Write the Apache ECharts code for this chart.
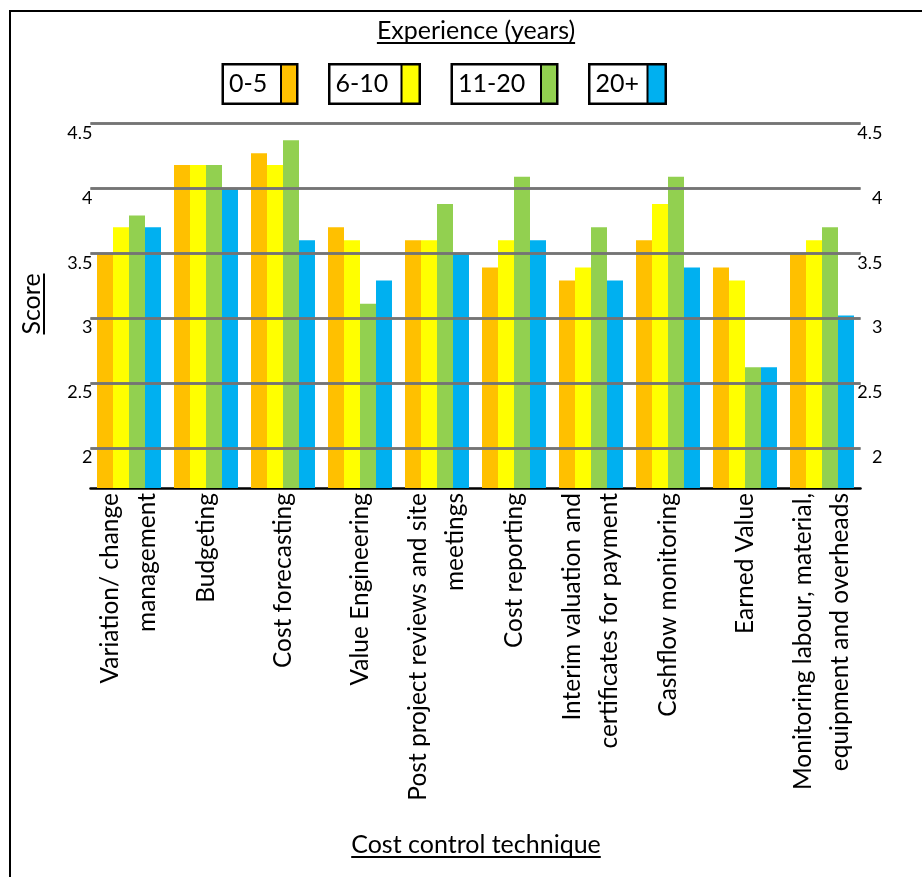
<!DOCTYPE html>
<html>
<head>
<meta charset="utf-8">
<script src="https://cdn.jsdelivr.net/npm/echarts@6/dist/echarts.min.js"></script>
<style>
  html, body { margin: 0; padding: 0; background: #fff; }
  #chart { width: 922px; height: 877px; }
</style>
</head>
<body>
<div id="chart"></div>
<script>
const FONT = 'Lato';

const categories = [
  'Variation/ change\nmanagement',
  'Budgeting',
  'Cost forecasting',
  'Value Engineering',
  'Post project reviews and site\nmeetings',
  'Cost reporting',
  'Interim valuation and\ncertificates for payment',
  'Cashflow monitoring',
  'Earned Value',
  'Monitoring labour, material,\nequipment and overheads'
];
const groupNames = ['0-5', '6-10', '11-20', '20+'];
const groupColors = ['#FFC000', '#FFFF00', '#92D050', '#00B0F0'];

const years0to5 = [3.50, 4.18, 4.27, 3.70, 3.60, 3.39, 3.29, 3.60, 3.39, 3.50];
const years6to10 = [3.70, 4.18, 4.18, 3.60, 3.60, 3.60, 3.39, 3.88, 3.29, 3.60];
const years11to20 = [3.79, 4.18, 4.37, 3.11, 3.88, 4.09, 3.70, 4.09, 2.62, 3.70];
const years20plus = [3.70, 4.00, 3.60, 3.29, 3.50, 3.60, 3.29, 3.39, 2.62, 3.02];
const seriesValues = [years0to5, years6to10, years11to20, years20plus];

const yTicks = [2, 2.5, 3, 3.5, 4, 4.5];

// legend box widths (text part, swatch part)
const legendTextW = [62, 76, 93, 62];
const legendSwatchW = [14, 16, 14, 16];

const GRID_COLOR = '#747474';

function textWidth(text, size) {
  const ctx = document.createElement('canvas').getContext('2d');
  ctx.font = `${size}px ${FONT}`;
  return ctx.measureText(text).width;
}

const legendRich = {};
groupNames.forEach((n, i) => {
  legendRich['t' + i] = {
    width: legendTextW[i] - 9,
    padding: [0, 0, 0, 5],
    height: 37,
    lineHeight: 37,
    fontSize: 25,
    fontFamily: FONT,
    color: '#000',
    align: 'left'
  };
  legendRich['s' + i] = {
    width: legendSwatchW[i],
    height: 37,
    backgroundColor: groupColors[i],
    borderColor: '#000',
    borderWidth: 2
  };
});

const tickRich = {
  l: {width: 30, align: 'right', padding: [19, 0, 0, 0], fontSize: 18, fontFamily: FONT, color: '#000'},
  r: {width: 25, align: 'right', padding: [19, 0, 0, 0], fontSize: 18, fontFamily: FONT, color: '#000'}
};

function gridMarkLine(side) {
  return {
    silent: true,
    symbol: ['none', 'none'],
    animation: false,
    lineStyle: {color: GRID_COLOR, width: 2.5, type: 'solid'},
    label: {
      show: true,
      position: side === 'l' ? 'start' : 'end',
      distance: side === 'l' ? -2 : -3,
      formatter: (p) => `{${side}|${p.value}}`,
      rich: tickRich
    },
    emphasis: {disabled: true},
    data: yTicks.map((v) => ({yAxis: v}))
  };
}

const series = groupNames.map((name, i) => ({
  name: name,
  type: 'bar',
  barGap: 0,
  barCategoryGap: '16.9%',
  itemStyle: {color: groupColors[i]},
  emphasis: {disabled: true},
  data: seriesValues[i],
  markLine: i === 0 ? gridMarkLine('l') : (i === 1 ? gridMarkLine('r') : undefined)
}));

const titleW = textWidth('Experience (years)', 25);
const xNameW = textWidth('Cost control technique', 25);
const yNameW = textWidth('Score', 25);

const chartOptions = {
  animation: false,
  textStyle: {fontFamily: FONT},
  legend: {
    data: groupNames,
    left: 218,
    top: 63,
    padding: 0,
    icon: 'none',
    itemWidth: 1,
    itemHeight: 37,
    itemGap: 26,
    selectedMode: false,
    formatter: (name) => {
      const i = groupNames.indexOf(name);
      return `{t${i}|${name}}{s${i}|}`;
    },
    textStyle: {
      borderColor: '#000',
      borderWidth: 2.5,
      backgroundColor: '#fff',
      padding: 0,
      rich: legendRich
    }
  },
  grid: {
    left: 90.5,
    right: 61.5,
    top: 123.5,
    bottom: 389,
    containLabel: false,
    outerBoundsMode: 'none'
  },
  xAxis: {
    type: 'category',
    data: categories,
    axisLine: {lineStyle: {color: '#000', width: 2.5}},
    axisTick: {show: false},
    axisLabel: {
      interval: 0,
      rotate: 90,
      margin: 5,
      fontSize: 24.5,
      lineHeight: 37,
      color: '#000',
      fontFamily: FONT
    }
  },
  yAxis: {
    type: 'value',
    min: 1.69,
    max: 4.5,
    axisLine: {show: false},
    axisTick: {show: false},
    axisLabel: {show: false},
    splitLine: {show: false}
  },
  series: series,
  graphic: [
    {
      type: 'rect',
      silent: true,
      shape: {x: 10, y: 11, width: 940, height: 900},
      style: {fill: 'none', stroke: '#000', lineWidth: 2}
    },
    {
      type: 'text', x: 476, y: 31, silent: true,
      style: {text: 'Experience (years)', fontSize: 25, fontFamily: FONT, fill: '#000', align: 'center', verticalAlign: 'middle'}
    },
    {
      type: 'line', silent: true,
      shape: {x1: 476 - titleW / 2, y1: 43, x2: 476 + titleW / 2, y2: 43},
      style: {stroke: '#000', lineWidth: 2}
    },
    {
      type: 'text', x: 476, y: 845, silent: true,
      style: {text: 'Cost control technique', fontSize: 25, fontFamily: FONT, fill: '#000', align: 'center', verticalAlign: 'middle'}
    },
    {
      type: 'line', silent: true,
      shape: {x1: 476 - xNameW / 2, y1: 857, x2: 476 + xNameW / 2, y2: 857},
      style: {stroke: '#000', lineWidth: 2}
    },
    {
      type: 'text', x: 32, y: 304, rotation: Math.PI / 2, silent: true,
      style: {text: 'Score', fontSize: 25, fontFamily: FONT, fill: '#000', align: 'center', verticalAlign: 'middle'}
    },
    {
      type: 'line', silent: true,
      shape: {x1: 44, y1: 304 - yNameW / 2, x2: 44, y2: 304 + yNameW / 2},
      style: {stroke: '#000', lineWidth: 2}
    }
  ]
};

const chart = echarts.init(document.getElementById('chart'), null, {renderer: 'canvas'});
chart.setOption(chartOptions);
</script>
</body>
</html>
